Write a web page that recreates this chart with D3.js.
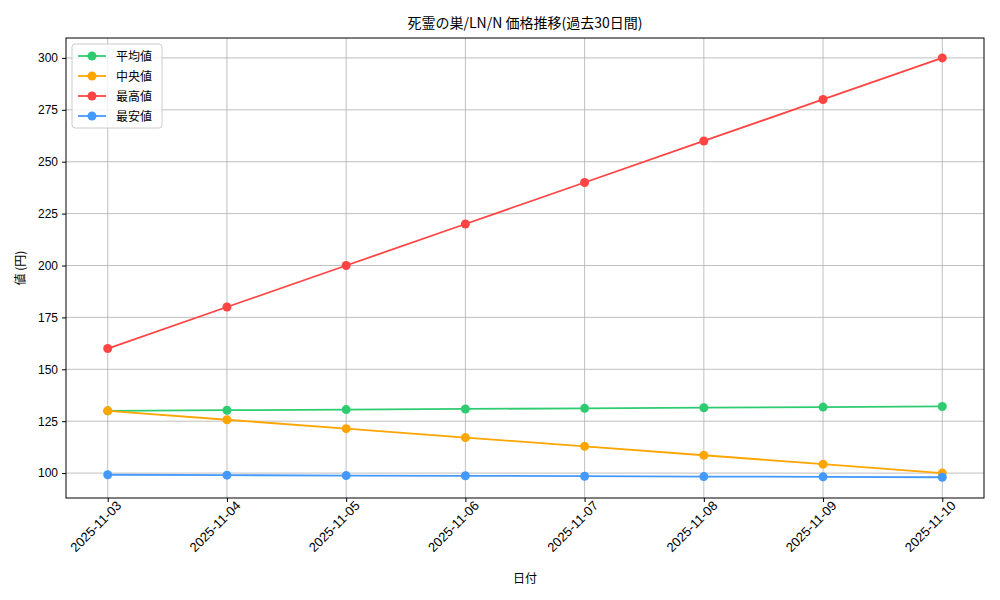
<!DOCTYPE html>
<html><head><meta charset="utf-8">
<script src="https://cdn.jsdelivr.net/npm/d3@7"></script>
<style>body{margin:0;background:#fff;font-family:"Noto Sans CJK JP",sans-serif;}</style>
</head><body><svg id="chart"></svg>
<script>
const dates = ['2025-11-03','2025-11-04','2025-11-05','2025-11-06','2025-11-07','2025-11-08','2025-11-09','2025-11-10'];
const avgValues = [130, 130.3, 130.6, 130.9, 131.2, 131.5, 131.8, 132.1];
const medianValues = [130, 125.7, 121.4, 117.1, 112.9, 108.6, 104.3, 100];
const maxValues = [160, 180, 200, 220, 240, 260, 280, 300];
const minValues = [99.2, 99.0, 98.8, 98.7, 98.5, 98.3, 98.2, 98.0];
const yTicks = [100, 125, 150, 175, 200, 225, 250, 275, 300];

const series = [
  {name: '平均値', values: avgValues, color: '#2ecc71'},
  {name: '中央値', values: medianValues, color: '#ffa500'},
  {name: '最高値', values: maxValues, color: '#ff4444'},
  {name: '最安値', values: minValues, color: '#4499ff'}
];

const margin = {top: 38, right: 16, bottom: 102, left: 66};
const width = 1000, height = 600;
const iw = width - margin.left - margin.right, ih = height - margin.top - margin.bottom;

const svg = d3.select('#chart').attr('width', width).attr('height', height);
const g = svg.append('g').attr('transform', `translate(${margin.left},${margin.top})`);

const x = d3.scaleLinear().domain([-0.35, dates.length - 1 + 0.35]).range([0, iw]);
const y = d3.scaleLinear().domain([88, 309.6]).range([ih, 0]);

// grid
g.append('g').selectAll('line').data(dates).join('line')
  .attr('x1', (d, i) => x(i)).attr('x2', (d, i) => x(i)).attr('y1', 0).attr('y2', ih)
  .attr('stroke', '#b0b0b0').attr('stroke-width', 0.8);
g.append('g').selectAll('line').data(yTicks).join('line')
  .attr('x1', 0).attr('x2', iw).attr('y1', d => y(d)).attr('y2', d => y(d))
  .attr('stroke', '#b0b0b0').attr('stroke-width', 0.8);

// axes
const xAxis = g.append('g').attr('transform', `translate(0,${ih})`)
  .call(d3.axisBottom(x).tickValues(d3.range(dates.length)).tickFormat(i => dates[i]).tickSize(4).tickPadding(4));
xAxis.selectAll('text').attr('font-size', 13).attr('fill', '#000')
  .attr('text-anchor', 'end').attr('dx', '0.3em').attr('dy', '0.6em')
  .attr('transform', 'rotate(-45)');
const yAxis = g.append('g')
  .call(d3.axisLeft(y).tickValues(yTicks).tickSize(4).tickPadding(4));
yAxis.selectAll('text').attr('font-size', 12).attr('fill', '#000');
svg.selectAll('.domain').remove();
g.append('rect').attr('width', iw).attr('height', ih).attr('fill', 'none').attr('stroke', '#000').attr('stroke-width', 1);

// lines
const line = d3.line().x((d, i) => x(i)).y(d => y(d));
series.forEach(s => {
  g.append('path').datum(s.values).attr('d', line)
    .attr('fill', 'none').attr('stroke', s.color).attr('stroke-width', 1.8);
  g.selectAll(null).data(s.values).join('circle')
    .attr('cx', (d, i) => x(i)).attr('cy', d => y(d)).attr('r', 4.5).attr('fill', s.color);
});

// labels
svg.append('text').attr('x', margin.left + iw / 2).attr('y', 28).attr('text-anchor', 'middle')
  .attr('font-size', 14).text('死霊の巣/LN/N 価格推移(過去30日間)');
svg.append('text').attr('x', margin.left + iw / 2).attr('y', 583).attr('text-anchor', 'middle')
  .attr('font-size', 12).text('日付');
svg.append('text').attr('transform', `translate(25,${margin.top + ih / 2}) rotate(-90)`)
  .attr('text-anchor', 'middle').attr('font-size', 12).text('値 (円)');

// legend
const lg = svg.append('g').attr('transform', `translate(${margin.left + 6},${margin.top + 6})`);
lg.append('rect').attr('width', 90).attr('height', 84).attr('rx', 3)
  .attr('fill', '#fff').attr('fill-opacity', 0.8).attr('stroke', '#ccc');
series.forEach((s, i) => {
  const yy = 12 + i * 20;
  lg.append('line').attr('x1', 6).attr('x2', 34).attr('y1', yy).attr('y2', yy)
    .attr('stroke', s.color).attr('stroke-width', 1.8);
  lg.append('circle').attr('cx', 20).attr('cy', yy).attr('r', 4.5).attr('fill', s.color);
  lg.append('text').attr('x', 44).attr('y', yy + 4.5).attr('font-size', 12).text(s.name);
});
</script></body></html>
